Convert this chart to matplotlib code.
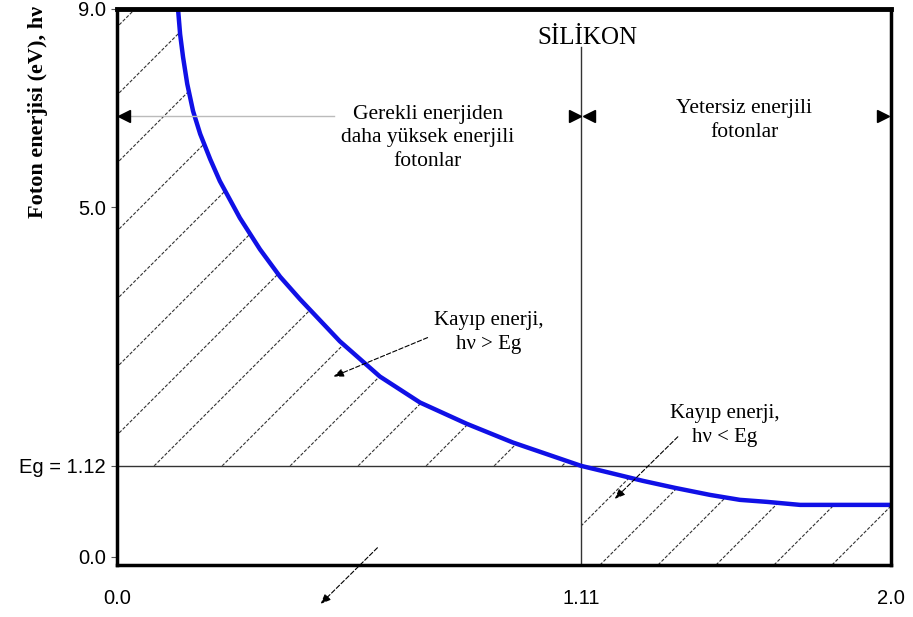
import numpy as np
import matplotlib
matplotlib.use('Agg')
import matplotlib.pyplot as plt

# photon wavelength (um) and energy (eV)
wavelength = [0.146, 0.151, 0.158, 0.168, 0.182, 0.199, 0.223, 0.246, 0.294, 0.342,
              0.390, 0.438, 0.533, 0.629, 0.725, 0.837, 0.947, 1.11,
              1.193, 1.288, 1.380, 1.480, 1.566, 1.644, 1.739, 2.0]
energy = [9.0, 8.49, 8.03, 7.49, 6.94, 6.48, 5.97, 5.53, 4.84, 4.37,
          3.96, 3.62, 2.99, 2.46, 2.07, 1.75, 1.47, 1.12,
          1.034, 0.935, 0.849, 0.763, 0.702, 0.677, 0.640, 0.640]

eg = 1.12          # band gap of silicon (eV)
lam_cut = 1.11     # cut-off wavelength (um)

x_ticks = [0.0, 1.11, 2.0]
x_ticklabels = ['0.0', '1.11', '2.0']
y_ticks = [0.0, 1.12, 5.0, 9.0]
y_ticklabels = ['0.0', 'Eg = 1.12', '5.0', '9.0']

# the drawing is schematic: axes are not linear, tick values sit at fixed spots
x_knots = [0.0, 1.11, 2.0]
x_pos = [0, 464, 774]
y_knots = [-0.1, 0.0, 1.12, 5.0, 9.0]
y_pos = [0, 8, 99, 357, 555]

serif = 'Liberation Serif'
sans = 'Liberation Sans'
blue = '#1010e6'

fig = plt.figure(figsize=(9.13, 6.17), dpi=100)
ax = fig.add_axes([117 / 913, 1 - 565 / 617, 774 / 913, 556 / 617])
ax.set_xscale('function', functions=(lambda v: np.interp(v, x_knots, x_pos),
                                     lambda p: np.interp(p, x_pos, x_knots)))
ax.set_yscale('function', functions=(lambda v: np.interp(v, y_knots, y_pos),
                                     lambda p: np.interp(p, y_pos, y_knots)))
ax.set_xlim(0, 2.0)
ax.set_ylim(-0.1, 9.0)

lam = np.array(wavelength)
en = np.array(energy)
left = lam <= lam_cut
right = lam >= lam_cut

# invisible regions used only to clip the hatch lines
reg_hi = ax.fill_between(np.r_[0.0, lam[left]], eg, np.r_[9.0, en[left]],
                         facecolor='none', edgecolor='none')
reg_lo = ax.fill_between(lam[right], -0.1, en[right],
                         facecolor='none', edgecolor='none')

k = 556 / 774  # 45 degree lines in axes fraction
hatch_sets = [(reg_hi, -0.1007, 68 / 774), (reg_lo, 0.6757, 58 / 774)]
for reg, x0, step in hatch_sets:
    path = reg.get_paths()[0]
    for c in np.arange(x0 - 2.0, 1.2, step):
        ln, = ax.plot([c, c + k], [0, 1], transform=ax.transAxes, color='#333333',
                      lw=0.8, linestyle=(0, (3, 1.5)))
        ln.set_clip_path(path, ax.transData)

ax.axhline(eg, color='#333333', lw=1.0)
ax.plot([lam_cut, lam_cut], [-0.1, 8.23], color='#333333', lw=1.0)
ax.plot(lam, en, color=blue, lw=3.2, solid_capstyle='butt', solid_joinstyle='round')

# region width indicator
ax.plot([0, 0.518], [6.84, 6.84], color='#bbbbbb', lw=1.0)
ax.plot([0.0168, 1.133], [6.84, 6.84], linestyle='none', marker='<', color='black', ms=8)
ax.plot([1.096, 1.977], [6.84, 6.84], linestyle='none', marker='>', color='black', ms=8)

ax.text(1.127, 8.42, 'SİLİKON', family=serif, fontsize=18, ha='center', va='center')
ax.text(0.743, 6.40, 'Gerekli enerjiden\ndaha yüksek enerjili\nfotonlar', family=serif,
        fontsize=15.5, ha='center', va='center', linespacing=1.3)
ax.text(1.579, 6.75, 'Yetersiz enerjili\nfotonlar', family=serif,
        fontsize=15.5, ha='center', va='center', linespacing=1.3)
ax.text(0.889, 3.12, 'Kayıp enerji,\nhν > Eg', family=serif,
        fontsize=15, ha='center', va='center', linespacing=1.35)
ax.text(1.522, 1.72, 'Kayıp enerji,\nhν < Eg', family=serif,
        fontsize=15, ha='center', va='center', linespacing=1.35)

arrow = dict(arrowstyle='-|>,head_length=0.6,head_width=0.25', color='black',
             lw=0.8, linestyle=(0, (4, 2)), shrinkA=0, shrinkB=0)
ax.annotate('', xy=(0.518, 2.46), xytext=(0.743, 3.045), arrowprops=arrow)
ax.annotate('', xy=(1.207, 0.714), xytext=(1.388, 1.556), arrowprops=arrow)
ax.annotate('', xy=(0.487, -0.07), xytext=(0.623, 0.031),
            xycoords=('data', 'axes fraction'), textcoords=('data', 'axes fraction'),
            arrowprops=arrow, annotation_clip=False)

ax.set_xticks(x_ticks)
ax.set_xticklabels(x_ticklabels, family=sans, fontsize=14.5)
ax.set_yticks(y_ticks)
ax.set_yticklabels(y_ticklabels, family=sans, fontsize=14.5)
ax.minorticks_off()
ax.tick_params(axis='x', length=0, pad=17)
ax.tick_params(axis='y', length=4, width=0.8, color='#555555', pad=4)

for side in ['left', 'right', 'bottom']:
    ax.spines[side].set_linewidth(2.5)
ax.spines['top'].set_linewidth(3.5)

fig.text(38 / 913, 1 - 218 / 617, 'Foton enerjisi (eV), hν', rotation=90,
         ha='center', va='bottom', family=serif, fontweight='bold', fontsize=16)

fig.savefig('out.png', dpi=100)
